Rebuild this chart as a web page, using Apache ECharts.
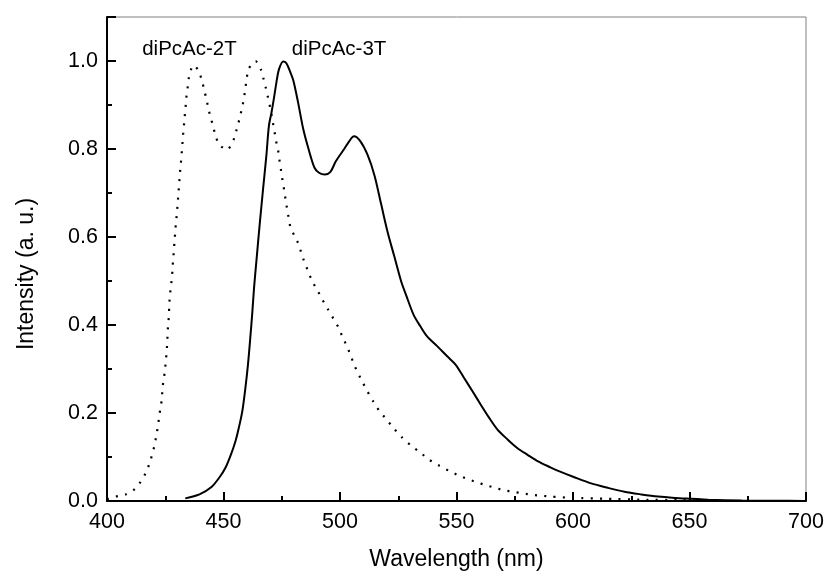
<!DOCTYPE html>
<html>
<head>
<meta charset="utf-8">
<script src="https://cdn.jsdelivr.net/npm/echarts@6/dist/echarts.min.js"></script>
<style>
html,body{margin:0;padding:0;background:#fff;}
#chart{width:827px;height:576px;}
</style>
</head>
<body>
<div id="chart"></div>
<script>
// diPcAc-2T (dotted)
const wl2T = [400, 403.7, 408.0, 411.9, 415.0, 417.1, 418.5, 419.7, 420.6, 421.3, 422.0, 422.4, 423.1, 423.6, 423.8, 424.4, 424.9, 425.3, 425.6, 425.9, 426.0, 426.3, 426.6, 426.7, 427.0, 427.4, 427.9, 428.1, 428.4, 428.7, 429.0, 429.3, 429.6, 430.0, 430.3, 430.6, 430.9, 431.2, 431.5, 431.9, 432.2, 432.5, 432.8, 433.2, 433.5, 433.9, 434.2, 434.8, 435.3, 436.6, 437.5, 439.4, 440.8, 441.7, 442.7, 443.5, 444.5, 445.6, 446.6, 448.3, 451.6, 454.0, 455.2, 456.3, 457.3, 458.2, 458.9, 459.5, 460.0, 460.8, 463.8, 466.2, 467.2, 468.2, 469.1, 470.0, 470.7, 471.4, 472.1, 472.8, 473.6, 474.1, 474.7, 475.3, 476.0, 476.6, 477.2, 477.9, 478.6, 480.3, 482.3, 483.5, 484.8, 486.5, 488.1, 490.4, 492.5, 494.8, 497.1, 499.3, 501.0, 502.9, 504.6, 506.0, 507.9, 509.8, 511.9, 514.2, 516.7, 520.0, 523.1, 526.7, 530.5, 534.5, 538.5, 542.7, 546.6, 550.6, 554.6, 558.5, 562.6, 566.5, 570.6, 574.4, 578.6, 582.6, 586.5, 590.4, 600, 615, 630, 645, 660];
const int2T = [0.004, 0.010, 0.015, 0.027, 0.048, 0.069, 0.090, 0.111, 0.132, 0.153, 0.174, 0.194, 0.215, 0.236, 0.257, 0.278, 0.299, 0.320, 0.341, 0.362, 0.383, 0.403, 0.424, 0.445, 0.466, 0.488, 0.508, 0.529, 0.549, 0.570, 0.591, 0.612, 0.633, 0.653, 0.674, 0.695, 0.716, 0.737, 0.758, 0.779, 0.800, 0.821, 0.842, 0.863, 0.883, 0.905, 0.925, 0.946, 0.968, 0.988, 0.990, 0.976, 0.955, 0.934, 0.913, 0.892, 0.871, 0.851, 0.829, 0.809, 0.798, 0.816, 0.836, 0.857, 0.878, 0.899, 0.920, 0.942, 0.962, 0.983, 1.000, 0.979, 0.959, 0.938, 0.917, 0.895, 0.875, 0.854, 0.833, 0.812, 0.792, 0.771, 0.751, 0.730, 0.708, 0.687, 0.667, 0.646, 0.625, 0.604, 0.583, 0.562, 0.542, 0.520, 0.499, 0.478, 0.457, 0.436, 0.415, 0.395, 0.374, 0.352, 0.331, 0.310, 0.289, 0.269, 0.248, 0.227, 0.206, 0.185, 0.165, 0.144, 0.126, 0.110, 0.093, 0.080, 0.069, 0.059, 0.050, 0.043, 0.036, 0.030, 0.024, 0.021, 0.017, 0.014, 0.012, 0.010, 0.007, 0.005, 0.003, 0.002, 0.001];

// diPcAc-3T (solid)
const wl3T = [433.6, 439.7, 444.7, 448.3, 450.9, 453.3, 455.2, 456.6, 458.1, 459.4, 460.5, 461.5, 462.4, 463.1, 464.1, 465.5, 467.0, 468.4, 469.5, 470.6, 471.6, 472.7, 473.8, 475.6, 477.0, 478.7, 480.0, 482.0, 484.2, 486.5, 489.0, 491.0, 493.5, 495.9, 498.2, 501.8, 504.0, 506.0, 508.7, 511.8, 514.8, 517.6, 520.4, 523.3, 526.2, 528.5, 531.6, 534.5, 537.4, 541.7, 546.0, 549.6, 553.2, 556.8, 560.3, 563.9, 567.5, 571.9, 576.2, 580.5, 585.0, 590.5, 593.4, 600.6, 607.8, 614.9, 622.1, 629.3, 636.5, 643.7, 650.9, 658.0, 672.4, 686.6, 699.6];
const int3T = [0.006, 0.015, 0.031, 0.054, 0.076, 0.107, 0.137, 0.167, 0.205, 0.257, 0.310, 0.371, 0.431, 0.484, 0.544, 0.627, 0.710, 0.785, 0.853, 0.883, 0.914, 0.951, 0.981, 0.999, 0.995, 0.974, 0.955, 0.906, 0.846, 0.800, 0.758, 0.746, 0.742, 0.748, 0.772, 0.800, 0.818, 0.829, 0.818, 0.787, 0.740, 0.676, 0.612, 0.556, 0.500, 0.466, 0.423, 0.397, 0.374, 0.352, 0.329, 0.310, 0.280, 0.250, 0.220, 0.190, 0.163, 0.140, 0.120, 0.105, 0.090, 0.076, 0.069, 0.054, 0.040, 0.030, 0.021, 0.015, 0.010, 0.007, 0.005, 0.003, 0.001, 0.0005, 0.0];

// annotations
const annoText = ['diPcAc-2T', 'diPcAc-3T'];
const annoX = [435.6, 499.8];
const annoY = [1.025, 1.025];

// axis settings
const xMin = 400, xMax = 700, xStep = 50;
const yMin = 0, yMax = 1.1, yStep = 0.2, yMinorStep = 0.1;

const FONT = 'Liberation Sans, Arial, Helvetica, sans-serif';
const pairs = (xs, ys) => xs.map((x, i) => [x, ys[i]]);

const chart = echarts.init(document.getElementById('chart'), null, {renderer: 'canvas'});
const axisLineStyle = {color: '#000', width: 2};

chart.setOption({
  backgroundColor: '#fff',
  animation: false,
  grid: {left: 107, right: 21, top: 17, bottom: 72, show: true, borderColor: '#808080', borderWidth: 1, containLabel: false},
  xAxis: {
    type: 'value', min: xMin, max: xMax, interval: xStep,
    name: 'Wavelength (nm)', nameLocation: 'middle', nameGap: 47,
    nameTextStyle: {fontFamily: FONT, fontSize: 23, color: '#000'},
    axisLine: {show: true, onZero: false, lineStyle: axisLineStyle},
    axisTick: {show: true, inside: true, length: 9, lineStyle: {color: '#000', width: 2}},
    minorTick: {show: true, splitNumber: 2, length: 5, lineStyle: {color: '#000', width: 2}},
    splitLine: {show: false},
    axisLabel: {fontFamily: FONT, fontSize: 21.5, color: '#000', margin: 10}
  },
  yAxis: [{
    type: 'value', min: yMin, max: yMax, interval: yStep,
    name: 'Intensity (a. u.)', nameLocation: 'middle', nameGap: 69, nameRotate: 90,
    nameTextStyle: {fontFamily: FONT, fontSize: 23, color: '#000', padding: [0, 30, 0, 0]},
    axisLine: {show: true, onZero: false, lineStyle: axisLineStyle},
    axisTick: {show: true, inside: true, length: 9, lineStyle: {color: '#000', width: 2}},
    splitLine: {show: false},
    axisLabel: {fontFamily: FONT, fontSize: 21.5, color: '#000', margin: 9,
      formatter: v => (v > 1.05 ? '' : v.toFixed(1))}
  }, {
    type: 'value', min: yMin, max: yMax, interval: yMinorStep, position: 'left', offset: 0,
    axisLine: {show: false},
    axisTick: {show: true, inside: true, length: 5, lineStyle: {color: '#000', width: 2}},
    splitLine: {show: false},
    axisLabel: {show: false}
  }],
  series: [{
    name: 'diPcAc-2T', type: 'line', data: pairs(wl2T, int2T), showSymbol: false, symbol: 'none',
    smooth: 0.2,
    lineStyle: {color: '#000', width: 2.2, type: [2, 7.3], cap: 'butt'}, z: 3
  }, {
    name: 'diPcAc-3T', type: 'line', data: pairs(wl3T, int3T), showSymbol: false, symbol: 'none',
    smooth: 0.3,
    lineStyle: {color: '#000', width: 2}, z: 4
  }, {
    name: 'labels', type: 'scatter', symbolSize: 1, itemStyle: {color: 'rgba(0,0,0,0)'},
    data: annoX.map((x, i) => ({value: [x, annoY[i]], name: annoText[i]})),
    label: {show: true, position: [0, 0], align: 'center', verticalAlign: 'middle',
      formatter: p => p.name, fontFamily: FONT, fontSize: 20.5, color: '#000',
      textBorderWidth: 0, opacity: 1},
    emphasis: {disabled: true},
    silent: true, z: 5
  }]
});
</script>
</body>
</html>
